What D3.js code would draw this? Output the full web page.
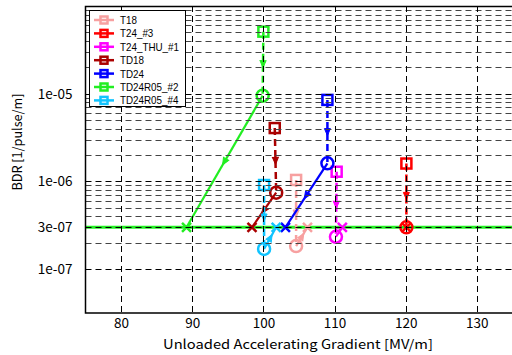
<!DOCTYPE html>
<html><head><meta charset="utf-8">
<script src="https://cdn.jsdelivr.net/npm/d3@7"></script>
<style>
html,body{margin:0;padding:0;background:#fff;}
svg{display:block;font-family:"Noto Sans CJK JP","DejaVu Sans",sans-serif;}
</style></head>
<body><svg id="c" width="512" height="355"></svg>
<script>
// ---- data ----
const seriesNames = ["T18","T24_#3","T24_THU_#1","TD18","TD24","TD24R05_#2","TD24R05_#4"];
const seriesColors = ["#f7a0a0","#ff0000","#ff00ff","#aa0000","#0000ff","#22ee22","#11c4ff"];
// square marker (initial measurement)
const startGradient = [104.6, 120.1, 110.3, 101.6, 109.0, 100.0, 100.1];
const startBDR      = [1.04e-6, 1.6e-6, 1.29e-6, 4.06e-6, 8.5e-6, 5.1e-5, 9.1e-7];
// circle marker (after processing)
const endGradient   = [104.6, 120.1, 110.2, 101.8, 109.0, 99.9, 100.1];
const endBDR        = [1.83e-7, 3.0e-7, 2.34e-7, 7.45e-7, 1.61e-6, 9.5e-6, 1.7e-7];
// cross marker (scaled to target BDR)
const scaledGradient = [106.2, 120.1, 111.1, 98.4, 103.1, 89.2, 101.8];
const targetBDR = 3e-7;
const xTicks = [80, 90, 100, 110, 120, 130];
const yTicks = [1e-7, 3e-7, 1e-6, 1e-5];
const yTickLabels = ["1e-07","3e-07","1e-06","1e-05"];
const xDomain = [75, 135];
const yDomain = [Math.pow(10,-7.5), 1e-4];

// ---- chart ----
const svg = d3.select("#c");
const L = 85.5, T = 6, B = 313, R = 512.4;
const x = d3.scaleLinear().domain(xDomain).range([L, R]);
const y = d3.scaleLog().domain(yDomain).range([B, T]);

const gData = svg.append("g");
gData.append("line").attr("x1", x(xDomain[0])).attr("x2", x(xDomain[1]))
  .attr("y1", y(targetBDR)).attr("y2", y(targetBDR))
  .attr("stroke", seriesColors[5]).attr("stroke-width", 3);

function arrow(g, x1, y1, x2, y2, color) {
  const mx = (x1 + x2) / 2, my = (y1 + y2) / 2;
  const ang = Math.atan2(y2 - y1, x2 - x1) * 180 / Math.PI;
  g.append("path").attr("d", "M4,0 L-3,-3 L-3,3 Z")
    .attr("transform", `translate(${mx},${my}) rotate(${ang})`)
    .attr("fill", color).attr("stroke", color).attr("stroke-width", 1);
}

seriesNames.forEach((n, i) => {
  const c = seriesColors[i];
  const g = gData.append("g");
  const sx = x(startGradient[i]), sy = y(startBDR[i]);
  const ex = x(endGradient[i]), ey = y(endBDR[i]);
  const tx = x(scaledGradient[i]), ty = y(targetBDR);
  g.append("line").attr("x1", sx).attr("y1", sy).attr("x2", ex).attr("y2", ey)
    .attr("stroke", c).attr("stroke-width", 2.5).attr("stroke-dasharray", "7,4");
  arrow(g, sx, sy, ex, ey, c);
  if (Math.hypot(tx - ex, ty - ey) > 1) {
    g.append("line").attr("x1", ex).attr("y1", ey).attr("x2", tx).attr("y2", ty)
      .attr("stroke", c).attr("stroke-width", 2.2);
    if (Math.hypot(tx - ex, ty - ey) > 20) arrow(g, ex, ey, tx, ty, c);
  }
  g.append("rect").attr("x", sx - 5).attr("y", sy - 5).attr("width", 10).attr("height", 10)
    .attr("fill", "none").attr("stroke", c).attr("stroke-width", 2.5);
  g.append("circle").attr("cx", ex).attr("cy", ey).attr("r", 6)
    .attr("fill", "none").attr("stroke", c).attr("stroke-width", 2.5);
  const s = 4.5;
  g.append("path").attr("d", `M${tx-s},${ty-s}L${tx+s},${ty+s}M${tx-s},${ty+s}L${tx+s},${ty-s}`)
    .attr("stroke", c).attr("stroke-width", 2.5).attr("fill", "none");
});

// ---- grid (on top, as in the reference) ----
const gGrid = svg.append("g");
const minorVals = [];
for (let e = -7; e <= -5; e++) for (let m = 1; m <= 9; m++) minorVals.push(m * Math.pow(10, e));
minorVals.forEach(v => {
  const major = yTicks.some(t => Math.abs(t - v) / v < 1e-6);
  gGrid.append("line").attr("x1", L).attr("x2", R).attr("y1", Math.round(y(v)) + 0.5).attr("y2", Math.round(y(v)) + 0.5)
    .attr("stroke", major ? "#000" : "#444").attr("stroke-width", 1).attr("stroke-dasharray", "6,4");
});
xTicks.forEach(v => {
  gGrid.append("line").attr("x1", Math.round(x(v)) + 0.5).attr("x2", Math.round(x(v)) + 0.5).attr("y1", T).attr("y2", B)
    .attr("stroke", "#000").attr("stroke-width", 1).attr("stroke-dasharray", "6,4");
});

// ---- axes ----
const xAxis = svg.append("g").attr("transform", `translate(0,${B})`)
  .call(d3.axisBottom(x).tickValues(xTicks).tickSize(0).tickPadding(5).tickFormat(d3.format("d")));
const yAxis = svg.append("g").attr("transform", `translate(${L},0)`)
  .call(d3.axisLeft(y).tickValues(yTicks).tickSize(0).tickPadding(13).tickFormat((d, i) => yTickLabels[i]));
[xAxis, yAxis].forEach(a => {
  a.select(".domain").remove();
  a.selectAll("text").attr("font-size", 13.5).attr("fill", "#000")
    .attr("font-family", '"Noto Sans CJK JP","DejaVu Sans",sans-serif');
});
svg.append("path").attr("d", `M${R},${T+0.5}H${L}V${B}H${R}`)
  .attr("fill", "none").attr("stroke", "#000").attr("stroke-width", 1.5);

// axis labels
svg.append("text").attr("x", 298).attr("y", 349).attr("text-anchor", "middle")
  .attr("font-size", 13).attr("textLength", 270).attr("lengthAdjust", "spacingAndGlyphs")
  .text("Unloaded Accelerating Gradient [MV/m]");
svg.append("text").attr("transform", "translate(22,142) rotate(-90)").attr("text-anchor", "middle")
  .attr("font-size", 13).attr("textLength", 97).attr("lengthAdjust", "spacingAndGlyphs")
  .text("BDR [1/pulse/m]");

// ---- legend ----
const lg = svg.append("g").attr("font-family", '"Liberation Sans","DejaVu Sans",sans-serif');
lg.append("rect").attr("x", 89.5).attr("y", 10.5).attr("width", 96).attr("height", 96)
  .attr("fill", "#fff").attr("stroke", "#000").attr("stroke-width", 1);
const texts = [];
seriesNames.forEach((n, i) => {
  const cy = 20 + i * 13.4;
  lg.append("line").attr("x1", 94).attr("x2", 114).attr("y1", cy).attr("y2", cy)
    .attr("stroke", seriesColors[i]).attr("stroke-width", 2.5);
  lg.append("rect").attr("x", 100.5).attr("y", cy - 3.5).attr("width", 7).attr("height", 7)
    .attr("fill", "none").attr("stroke", seriesColors[i]).attr("stroke-width", 2.5);
  texts.push(lg.append("text").attr("x", 120).attr("y", cy + 4).attr("font-size", 11).text(n));
});
const refW = texts[2].node().getComputedTextLength();
const k = Math.min(1, 59 / refW);
texts.forEach(t => {
  const w = t.node().getComputedTextLength();
  if (k < 1) t.attr("textLength", w * k).attr("lengthAdjust", "spacingAndGlyphs");
});
</script></body></html>
